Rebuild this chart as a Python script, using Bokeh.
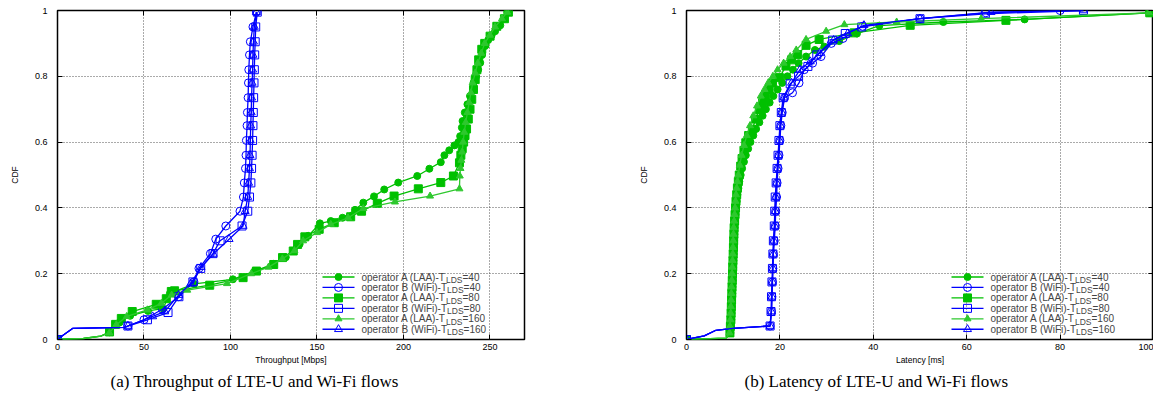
from bokeh.plotting import figure
from bokeh.models import (Range1d, FixedTicker, LinearAxis, Label, Title, NumeralTickFormatter,
                          CustomJSTickFormatter)
from bokeh.layouts import row
from bokeh.embed import file_html
from bokeh.resources import INLINE

# ---------------- data: throughput CDF (Mbps) ----------------
tp_a40_x = [0, 15, 25, 30, 35.9, 42, 52.3, 61, 65, 79, 101.4, 114, 125, 132, 140, 145, 151.7, 158, 164.8, 172,
            176.8, 183, 188.9, 197, 208, 215, 221.6, 223.7, 226.5, 229.5, 231.8, 232.8, 233.8, 234.2, 235.5, 237,
            238.5, 240.5, 242, 243.2, 244.4, 245.5, 247.2, 249, 251, 253, 256, 258, 260]
tp_a40_y = [0, 0.003, 0.01, 0.022, 0.052, 0.072, 0.087, 0.094, 0.14, 0.169, 0.183, 0.208, 0.23, 0.25, 0.29, 0.315,
            0.353, 0.36, 0.37, 0.394, 0.416, 0.435, 0.456, 0.477, 0.497, 0.519, 0.539, 0.56, 0.575, 0.59, 0.6, 0.618,
            0.644, 0.664, 0.69, 0.715, 0.74, 0.78, 0.8, 0.82, 0.841, 0.865, 0.892, 0.91, 0.925, 0.937, 0.955, 0.975,
            0.995]
tp_a80_x = [0, 15, 25, 30.1, 33.6, 36.9, 43.2, 57.1, 62.9, 65.8, 67.7, 88, 107.3, 115, 125, 130.1, 136.3, 138.8,
            143, 151.3, 160, 169.5, 175.8, 184.9, 194.6, 208.6, 221.6, 228.9, 232.4, 233.2, 234, 234.8, 235.6, 236.5,
            237.5, 238.5, 239.5, 240.5, 241.5, 242.5, 243.5, 245.3, 247, 250.1, 254, 258.4, 260.7]
tp_a80_y = [0, 0.003, 0.01, 0.023, 0.046, 0.064, 0.085, 0.107, 0.124, 0.146, 0.148, 0.165, 0.188, 0.208, 0.228,
            0.249, 0.269, 0.289, 0.312, 0.335, 0.355, 0.373, 0.39, 0.414, 0.436, 0.458, 0.477, 0.497, 0.537, 0.56,
            0.58, 0.6, 0.62, 0.64, 0.67, 0.7, 0.73, 0.76, 0.79, 0.82, 0.85, 0.882, 0.9, 0.922, 0.952, 0.975, 0.995]
tp_a160_x = [0, 15, 25, 30, 34, 40, 52, 60, 66, 75, 98, 112, 122, 130, 137, 142, 150, 158, 168, 176.8, 195.1, 215.4,
             232.4, 232.6, 233, 233.5, 234, 234.5, 235.2, 236, 237, 238, 239, 240, 241.5, 243, 245, 247, 250, 253,
             257, 260]
tp_a160_y = [0, 0.003, 0.01, 0.02, 0.045, 0.07, 0.09, 0.11, 0.135, 0.15, 0.17, 0.2, 0.22, 0.245, 0.27, 0.3, 0.325,
             0.35, 0.37, 0.398, 0.418, 0.436, 0.458, 0.497, 0.52, 0.545, 0.57, 0.6, 0.63, 0.66, 0.69, 0.72, 0.75,
             0.78, 0.81, 0.84, 0.87, 0.9, 0.925, 0.95, 0.975, 0.995]
tp_b40_x = [0, 3, 8.9, 38.8, 40.7, 50, 60.6, 70, 78.9, 81.8, 88.4, 91.5, 97.3, 105.5, 107.5, 108, 108.7, 109, 109.2,
            109.6, 109.8, 110.2, 110.4, 110.6, 111, 111.5, 113, 115]
tp_b40_y = [0, 0.012, 0.034, 0.037, 0.041, 0.06, 0.092, 0.13, 0.175, 0.216, 0.261, 0.305, 0.345, 0.39, 0.433, 0.476,
            0.52, 0.56, 0.605, 0.65, 0.69, 0.735, 0.78, 0.82, 0.865, 0.905, 0.95, 0.995]
tp_b80_x = [0, 3, 8.9, 38.8, 40.7, 52, 63.9, 70.2, 78.3, 82.8, 89.9, 94, 106.7, 110, 111, 111.8, 112.2, 112.5, 112.8,
            113, 113.2, 113.4, 113.6, 113.8, 114, 114.3, 114.6, 115.5]
tp_b80_y = [0, 0.012, 0.034, 0.037, 0.041, 0.06, 0.082, 0.13, 0.175, 0.216, 0.261, 0.3, 0.345, 0.39, 0.433, 0.476,
            0.52, 0.56, 0.605, 0.65, 0.69, 0.735, 0.78, 0.82, 0.865, 0.905, 0.95, 0.995]
tp_b160_x = [0, 3, 8.9, 38.8, 40.7, 55, 62, 70, 77, 83, 90, 99.2, 107.3, 108.5, 110, 110.5, 111, 111.3, 111.5,
             111.7, 112, 112.2, 112.5, 112.8, 113, 113.3, 113.8, 115]
tp_b160_y = [0, 0.012, 0.034, 0.037, 0.041, 0.07, 0.085, 0.135, 0.17, 0.22, 0.26, 0.305, 0.345, 0.39, 0.433, 0.476,
             0.52, 0.56, 0.605, 0.65, 0.69, 0.735, 0.78, 0.82, 0.865, 0.905, 0.95, 0.995]

# ---------------- data: latency CDF (ms) ----------------
lat_a40_x = [0, 8.5, 9.4, 9.5, 9.6, 9.65, 9.7, 9.75, 9.8, 9.85, 9.9, 9.95, 10.0, 10.05, 10.1, 10.15, 10.2, 10.25,
             10.3, 10.4, 10.5, 10.6, 10.75, 10.9, 11.1, 11.3, 11.6, 11.9, 12.3, 12.7, 13.2, 13.7, 14.3, 14.9, 15.6,
             16.3, 17.0, 17.8, 18.6, 19.5, 20.5, 21.6, 22.8, 24.0, 25.6, 27.5, 29.5, 32.7, 36.5, 41.3, 55.0, 72.4, 99.0]
lat_a40_y = [0, 0.004, 0.02, 0.04, 0.06, 0.08, 0.10, 0.12, 0.14, 0.16, 0.18, 0.20, 0.22, 0.24, 0.26, 0.28, 0.30,
             0.32, 0.34, 0.36, 0.38, 0.40, 0.42, 0.44, 0.46, 0.48, 0.50, 0.52, 0.54, 0.56, 0.58, 0.60, 0.62, 0.64,
             0.66, 0.68, 0.70, 0.72, 0.74, 0.76, 0.78, 0.80, 0.82, 0.84, 0.86, 0.88, 0.89, 0.907, 0.93, 0.954, 0.965,
             0.973, 0.993]
lat_a80_x = [0, 8.5, 9.3, 9.4, 9.5, 9.55, 9.6, 9.65, 9.7, 9.75, 9.8, 9.85, 9.9, 9.95, 10.0, 10.05, 10.1, 10.15, 10.2,
             10.3, 10.4, 10.5, 10.6, 10.75, 10.9, 11.1, 11.3, 11.6, 11.9, 12.3, 12.7, 13.3, 14.1, 14.8, 15.6, 16.3,
             17.0, 17.7, 18.4, 19.9, 21.3, 22.5, 23.8, 25.6, 28.4, 35.9, 47.9, 68.4, 99.2]
lat_a80_y = [0, 0.004, 0.02, 0.04, 0.06, 0.08, 0.10, 0.12, 0.14, 0.16, 0.18, 0.20, 0.22, 0.24, 0.26, 0.28, 0.30,
             0.32, 0.34, 0.36, 0.38, 0.40, 0.42, 0.44, 0.46, 0.48, 0.50, 0.527, 0.55, 0.575, 0.598, 0.62, 0.639, 0.67,
             0.699, 0.72, 0.74, 0.76, 0.78, 0.796, 0.831, 0.85, 0.866, 0.894, 0.912, 0.932, 0.955, 0.97, 0.993]
lat_a160_x = [0, 8.5, 9.2, 9.3, 9.4, 9.45, 9.5, 9.55, 9.6, 9.65, 9.7, 9.75, 9.8, 9.85, 9.9, 9.95, 10.0, 10.05, 10.1,
              10.2, 10.3, 10.4, 10.5, 10.6, 10.75, 10.9, 11.1, 11.4, 11.8, 12.3, 12.9, 13.6, 14.3, 15.1, 15.9, 16.7,
              17.5, 18.5, 19.5, 20.8, 22.2, 23.5, 25.6, 29.9, 33.8, 45.0, 63.1, 99.0]
lat_a160_y = [0, 0.004, 0.02, 0.04, 0.06, 0.08, 0.10, 0.12, 0.14, 0.16, 0.18, 0.20, 0.22, 0.24, 0.26, 0.28, 0.30,
              0.32, 0.34, 0.36, 0.38, 0.40, 0.42, 0.44, 0.46, 0.48, 0.50, 0.53, 0.56, 0.59, 0.62, 0.65, 0.68, 0.71,
              0.74, 0.76, 0.78, 0.80, 0.82, 0.84, 0.86, 0.88, 0.912, 0.937, 0.957, 0.965, 0.975, 0.993]
lat_b40_x = [0, 3.8, 6.3, 9.9, 17.9, 18.2, 18.3, 18.4, 18.5, 18.6, 18.8, 19.0, 19.1, 19.3, 19.4, 19.6, 19.8, 20.0,
             20.2, 20.5, 21.0, 22.7, 24.1, 25.2, 27.0, 28.8, 31.0, 33.5, 37.7, 50.0, 64.1, 80.0]
lat_b40_y = [0, 0.011, 0.028, 0.034, 0.041, 0.085, 0.13, 0.175, 0.216, 0.26, 0.3, 0.345, 0.39, 0.433, 0.476, 0.52,
             0.56, 0.605, 0.65, 0.69, 0.735, 0.75, 0.78, 0.82, 0.84, 0.86, 0.9, 0.915, 0.952, 0.975, 0.993, 1.0]
lat_b80_x = [0, 3.8, 6.3, 9.9, 17.9, 18.1, 18.2, 18.3, 18.4, 18.5, 18.6, 18.8, 18.9, 19.0, 19.2, 19.4, 19.6, 19.8,
             20.0, 20.3, 20.7, 22.2, 24.0, 26.0, 27.9, 31.3, 34.0, 37.5, 50.0, 64.0, 85.0]
lat_b80_y = [0, 0.011, 0.028, 0.034, 0.041, 0.085, 0.13, 0.175, 0.216, 0.26, 0.3, 0.345, 0.39, 0.433, 0.476, 0.52,
             0.56, 0.605, 0.65, 0.69, 0.735, 0.777, 0.8, 0.83, 0.865, 0.91, 0.93, 0.95, 0.975, 0.99, 1.0]
lat_b160_x = [0, 3.8, 6.3, 9.9, 17.9, 18.2, 18.3, 18.4, 18.5, 18.6, 18.7, 18.9, 19.0, 19.1, 19.3, 19.5, 19.7, 19.9,
              20.1, 20.4, 20.9, 22.5, 24.3, 26.5, 28.5, 31.5, 34.5, 38.0, 50.0, 65.2, 85.0]
lat_b160_y = [0, 0.011, 0.028, 0.034, 0.041, 0.085, 0.13, 0.175, 0.216, 0.26, 0.3, 0.345, 0.39, 0.433, 0.476, 0.52,
              0.56, 0.605, 0.65, 0.69, 0.735, 0.78, 0.82, 0.845, 0.87, 0.91, 0.93, 0.955, 0.975, 0.995, 1.0]

# ---------------- labels ----------------
series_main = ["operator A (LAA)-T", "operator B (WiFi)-T", "operator A (LAA)-T",
               "operator B (WiFi)-T", "operator A (LAA)-T", "operator B (WiFi)-T"]
series_sub = ["LDS"] * 6
series_suffix = ["=40", "=40", "=80", "=80", "=160", "=160"]
y_ticks = [0, 0.2, 0.4, 0.6, 0.8, 1]
tp_ticks = [0, 50, 100, 150, 200, 250]
lat_ticks = [0, 20, 40, 60, 80, 100]

GREEN = "#00c000"
GREEN2 = "#2ec82e"
BLUE = "#0000ff"
FONT = "Liberation Sans"
FW, FH = 467, 329  # frame size in px

STYLES = [
    (GREEN, "circle", 7, True),
    (BLUE, "circle", 8, False),
    (GREEN, "square", 8, True),
    (BLUE, "square", 8, False),
    (GREEN2, "triangle", 7, True),
    (BLUE, "triangle", 8, False),
]

# legend geometry (frame pixels, y measured up from the frame bottom)
LEG_X0, LEG_X1 = 265, 297
LEG_TEXT_X = 304
LEG_ROW0, LEG_STEP = 62.5, 10.45


def make_fig(xmax, xticks, xlabel, right_border, caption, cap_offset, series, marker_starts):
    p = figure(frame_width=FW, frame_height=FH, x_range=Range1d(0, xmax), y_range=Range1d(0, 1),
               output_backend="svg", toolbar_location=None, title=None,
               min_border_left=57, min_border_right=right_border, min_border_top=10, min_border_bottom=0,
               background_fill_color="white", border_fill_color="white")
    p.outline_line_color = "black"
    p.outline_line_width = 1.5

    p.xaxis.ticker = FixedTicker(ticks=xticks)
    p.yaxis.ticker = FixedTicker(ticks=y_ticks)
    p.yaxis.formatter = NumeralTickFormatter(format="0.[0]")
    p.xaxis.axis_label = xlabel
    p.yaxis.axis_label = "CDF"
    for ax in (p.xaxis[0], p.yaxis[0]):
        ax.axis_line_color = None
        ax.major_tick_in = 5
        ax.major_tick_out = 0
        ax.major_tick_line_color = "black"
        ax.minor_tick_line_color = None
        ax.major_label_text_font = FONT
        ax.major_label_text_font_size = "9px"
        ax.major_label_text_color = "black"
        ax.axis_label_text_font = FONT
        ax.axis_label_text_font_size = "8.5px"
        ax.axis_label_text_font_style = "normal"
        ax.axis_label_text_color = "black"
    p.yaxis.major_label_standoff = 10
    p.yaxis.axis_label_standoff = 12
    p.xaxis.major_label_standoff = 4
    p.xaxis.axis_label_standoff = 2

    for loc, tk in (("right", y_ticks), ("above", xticks)):
        ax = LinearAxis(ticker=FixedTicker(ticks=tk),
                        formatter=CustomJSTickFormatter(code="return ''"),
                        major_label_text_font_size="0px", major_label_standoff=0,
                        axis_line_color=None, major_tick_in=5, major_tick_out=0,
                        major_tick_line_color="black", minor_tick_line_color=None)
        p.add_layout(ax, loc)

    p.grid.grid_line_color = "#555555"
    p.grid.grid_line_dash = "1 2"
    p.grid.grid_line_width = 1

    for (xs, ys), (col, mk, sz, filled), k in zip(series, STYLES, marker_starts):
        p.line(xs, ys, line_color=col, line_width=1.3)
        mx = [xs[0]] + xs[k:]
        my = [ys[0]] + ys[k:]
        p.scatter(mx, my, marker=mk, size=sz, line_color=col, line_width=1,
                  fill_color=col if filled else None)

    # legend (keys placed in frame pixels, converted through the axis ranges)
    sx = xmax / FW
    main_w = {"operator A (LAA)-T": 84.5, "operator B (WiFi)-T": 85.6}
    for i, ((col, mk, sz, filled), main, sub, suf) in enumerate(
            zip(STYLES, series_main, series_sub, series_suffix)):
        cy = LEG_ROW0 - LEG_STEP * i
        yd = cy / FH
        p.line([LEG_X0 * sx, LEG_X1 * sx], [yd, yd], line_color=col, line_width=1.3)
        p.scatter([(LEG_X0 + LEG_X1) / 2 * sx], [yd], marker=mk, size=sz, line_color=col, line_width=1,
                  fill_color=col if filled else None)
        p.add_layout(Label(x=LEG_TEXT_X, y=cy, x_units="screen", y_units="screen", text=main,
                           text_font=FONT, text_font_size="10px", text_baseline="middle"))
        subx = LEG_TEXT_X + main_w[main]
        p.add_layout(Label(x=subx, y=cy - 3, x_units="screen", y_units="screen", text=sub,
                           text_font=FONT, text_font_size="8.5px", text_baseline="middle"))
        p.add_layout(Label(x=subx + 16.5, y=cy, x_units="screen", y_units="screen", text=suf,
                           text_font=FONT, text_font_size="10px", text_baseline="middle"))

    cap = Title(text=caption, align="left", offset=cap_offset, text_font="Liberation Serif",
                text_font_size="17px", text_font_style="normal", text_color="black", standoff=4)
    p.add_layout(cap, "below")
    return p


p1 = make_fig(270, tp_ticks, "Throughput [Mbps]", 105, "(a) Throughput of LTE-U and Wi-Fi flows", 53,
              [(tp_a40_x, tp_a40_y), (tp_b40_x, tp_b40_y), (tp_a80_x, tp_a80_y),
               (tp_b80_x, tp_b80_y), (tp_a160_x, tp_a160_y), (tp_b160_x, tp_b160_y)],
              [3, 4, 3, 4, 3, 4])
p2 = make_fig(100, lat_ticks, "Latency [ms]", 0, "(b) Latency of LTE-U and Wi-Fi flows", 58,
              [(lat_a40_x, lat_a40_y), (lat_b40_x, lat_b40_y), (lat_a80_x, lat_a80_y),
               (lat_b80_x, lat_b80_y), (lat_a160_x, lat_a160_y), (lat_b160_x, lat_b160_y)],
              [2, 4, 2, 4, 2, 4])

layout = row(p1, p2)
open("out.html", "w").write(file_html(layout, INLINE))
